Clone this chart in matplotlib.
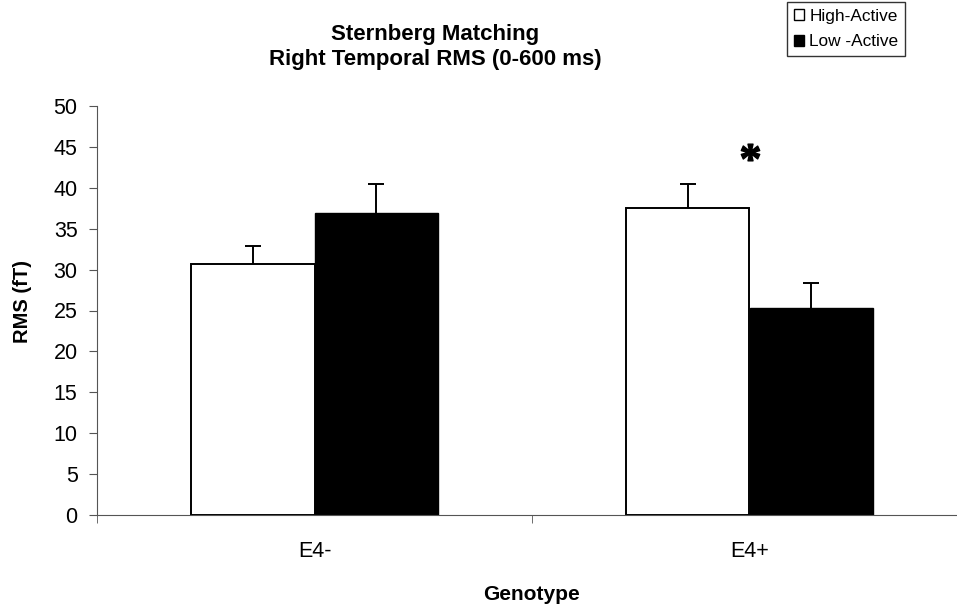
import matplotlib
matplotlib.use("Agg")
import matplotlib.pyplot as plt
from matplotlib.patches import Patch
from matplotlib.textpath import TextPath
from matplotlib.font_manager import FontProperties
from matplotlib.transforms import Affine2D

plt.rcParams['font.family'] = ['Liberation Sans', 'DejaVu Sans']

genotypes = ['E4-', 'E4+']
high_active = [30.7, 37.5]
high_err = [2.2, 3.0]
low_active = [36.9, 25.3]
low_err = [3.6, 3.1]
series_names = ['High-Active', 'Low -Active']
sig_x = [1.0]
sig_y = [44.4]

fig = plt.figure(figsize=(9.57, 6.11), dpi=100)
ax = fig.add_axes([97 / 957, 1 - 515 / 611, 870 / 957, 409 / 611])

x = list(range(len(genotypes)))
w = 0.283
cap = 0.018
hx = [i - w / 2 for i in x]
lx = [i + w / 2 for i in x]
ax.bar(hx, high_active, width=w, color='white', edgecolor='black', linewidth=1.4, zorder=2)
ax.bar(lx, low_active, width=w, color='black', edgecolor='black', linewidth=1.0, zorder=2)

# upward-only error bars, no lower cap
for xs, ys, es in [(hx, high_active, high_err), (lx, low_active, low_err)]:
    tops = [y + e for y, e in zip(ys, es)]
    ax.vlines(xs, ys, tops, color='black', lw=1.4, zorder=3)
    ax.hlines(tops, [v - cap for v in xs], [v + cap for v in xs], color='black', lw=1.4, zorder=3)

# significance star, path centred so the marker sits on its point
star = TextPath((0, 0), '*', prop=FontProperties(family='Liberation Serif', weight='bold'))
ext = star.get_extents()
star = star.transformed(Affine2D().translate(-(ext.x0 + ext.x1) / 2, -(ext.y0 + ext.y1) / 2))
ax.plot(sig_x, sig_y, linestyle='none', marker=star, markersize=30, color='black', clip_on=False)

ax.set_xlim(-0.5, 1.5)
ax.set_ylim(0, 50)
ax.set_yticks(range(0, 51, 5))
ax.set_xticks(x)
ax.set_xticklabels(genotypes)
ax.set_xticks([-0.5, 0.5, 1.5], minor=True)
ax.tick_params(axis='x', which='major', length=0, pad=19, labelsize=15.5)
ax.tick_params(axis='x', which='minor', length=6, color='#555555')
ax.tick_params(axis='y', length=6, color='#555555', labelsize=15.5, pad=8)

for s in ['top', 'right']:
    ax.spines[s].set_visible(False)
ax.spines['left'].set_color('#555555')
ax.spines['bottom'].set_color('#555555')

fig.text(22 / 957, 1 - 302 / 611, 'RMS (fT)', rotation=90, ha='center', va='center',
         fontsize=14.5, fontweight='bold')
fig.text(532 / 957, 1 - 594 / 611, 'Genotype', ha='center', va='center',
         fontsize=15, fontweight='bold')

fig.text(435 / 957, 1 - 47 / 611, 'Sternberg Matching\nRight Temporal RMS (0-600 ms)',
         ha='center', va='center', fontsize=16, fontweight='bold', linespacing=1.2)

handles = [Patch(facecolor='white', edgecolor='black'), Patch(facecolor='black', edgecolor='black')]
leg = fig.legend(handles, series_names, loc='upper left', bbox_to_anchor=(787 / 957, 1 - 2 / 611),
                 fontsize=12.4, frameon=True, fancybox=False, handlelength=0.6, handleheight=0.6,
                 handletextpad=0.3, borderpad=0.4, labelspacing=0.6, borderaxespad=0)
leg.get_frame().set_edgecolor('black')
leg.get_frame().set_linewidth(1.0)

plt.savefig("out.png", dpi=100)
